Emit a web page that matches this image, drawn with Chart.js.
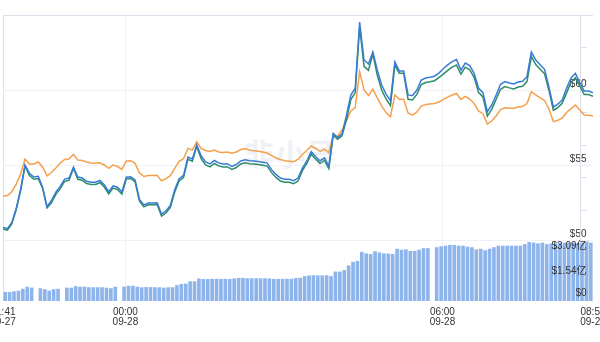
<!DOCTYPE html>
<html>
<head>
<meta charset="utf-8">
<script src="https://cdn.jsdelivr.net/npm/chart.js@4.4.0/dist/chart.umd.min.js"></script>
<style>
  html, body { margin: 0; padding: 0; background: #fff; }
  #wrap { position: relative; width: 600px; height: 342px; overflow: hidden; }
  #mark { position: absolute; left: 244px; top: 130px; font: 700 30px "Noto Sans CJK SC", sans-serif;
          color: #eef1f6; letter-spacing: 1px; }
  #price { position: absolute; left: 0; top: 0; }
  #volume { position: absolute; left: 0; top: 240px; }
</style>
</head>
<body>
<div id="wrap">
  <div id="mark">非小号</div>
  <canvas id="price" width="600" height="245"></canvas>
  <canvas id="volume" width="600" height="102"></canvas>
</div>
<script>
// 5-minute samples, minutes counted from 21:41 (09-27)
const STEP = 5;

// x-axis ticks (minutes from start) with their time / date labels
const tickMinutes = [0, 139, 499, 670];
const tickTimes   = ['21:41', '00:00', '06:00', '08:51'];
const tickDates   = ['09-27', '09-28', '09-28', '09-28'];

// price axis ($)
const priceMin = 50, priceMax = 65, priceStep = 5;

// volume axis (亿)
const volTicks = [0, 1.545, 3.09];
const volTickLabels = ['$0', '$1.54亿', '$3.09亿'];
const volMax = 3.185;

// blue series ($)
const priceBlue = [
  50.83, 50.75, 51.17, 52.11, 53.37, 55.00, 54.44, 54.20, 54.25, 53.52,
  52.22, 52.63, 53.19, 53.57, 54.06, 54.13, 54.85, 54.20, 54.13, 53.91,
  53.85, 53.85, 53.97, 53.68, 53.22, 53.61, 53.52, 53.22, 54.18, 54.22,
  54.00, 52.71, 52.33, 52.47, 52.47, 52.48, 51.73, 51.93, 52.31, 53.35,
  54.09, 54.31, 55.53, 55.40, 56.33, 55.62, 55.20, 55.07, 55.30, 55.14,
  55.07, 55.07, 54.91, 55.03, 55.27, 55.35, 55.29, 55.26, 55.23, 55.19,
  55.13, 54.69, 54.37, 54.13, 54.05, 54.05, 53.95, 54.13, 54.79, 55.27,
  55.89, 55.57, 55.27, 55.47, 54.93, 57.11, 56.83, 57.07, 58.31, 59.66,
  60.13, 64.53, 62.00, 61.73, 62.53, 61.33, 60.33, 59.73, 59.29, 61.87,
  61.27, 61.27, 59.67, 59.62, 60.00, 60.67, 60.80, 60.85, 60.92, 61.13,
  61.42, 61.67, 61.89, 62.03, 61.33, 61.80, 61.63, 61.12, 60.13, 59.82,
  58.55, 59.00, 59.67, 60.38, 60.56, 60.47, 60.40, 60.53, 60.58, 60.89,
  62.53, 62.00, 61.69, 61.38, 60.19, 58.87, 59.05, 59.33, 60.11, 60.80,
  61.11, 60.49, 59.93, 59.93, 59.81
];

// green series ($)
const priceGreen = [
  50.73, 50.65, 51.07, 52.01, 53.30, 54.93, 54.29, 54.05, 54.10, 53.44,
  52.14, 52.48, 53.04, 53.42, 53.91, 53.98, 54.78, 54.05, 53.98, 53.76,
  53.70, 53.70, 53.82, 53.53, 53.07, 53.46, 53.37, 53.07, 54.06, 54.10,
  53.88, 52.59, 52.21, 52.35, 52.35, 52.36, 51.60, 51.80, 52.18, 53.20,
  53.94, 54.16, 55.38, 55.25, 56.23, 55.42, 55.00, 54.87, 55.10, 54.94,
  54.87, 54.87, 54.71, 54.83, 55.07, 55.15, 55.09, 55.06, 55.03, 54.99,
  54.93, 54.49, 54.17, 53.93, 53.85, 53.85, 53.75, 53.93, 54.62, 55.10,
  55.72, 55.40, 55.10, 55.30, 54.76, 56.99, 56.71, 56.95, 58.01, 59.36,
  59.83, 64.20, 61.58, 61.31, 62.41, 61.00, 60.00, 59.40, 58.96, 61.65,
  61.12, 61.12, 59.38, 59.33, 59.71, 60.37, 60.50, 60.55, 60.62, 60.83,
  61.06, 61.31, 61.53, 61.67, 61.05, 61.52, 61.35, 60.84, 59.85, 59.54,
  58.26, 58.71, 59.38, 60.05, 60.23, 60.14, 60.07, 60.20, 60.25, 60.56,
  62.23, 61.70, 61.39, 61.08, 59.97, 58.65, 58.83, 59.11, 59.81, 60.50,
  60.81, 60.26, 59.70, 59.70, 59.58
];

// orange series ($)
const priceOrange = [
  52.93, 52.97, 53.22, 53.73, 54.40, 55.38, 55.07, 55.07, 55.20, 54.87,
  54.27, 54.50, 54.80, 55.13, 55.37, 55.40, 55.71, 55.33, 55.30, 55.20,
  55.13, 55.11, 55.15, 55.00, 54.78, 55.00, 54.90, 54.71, 55.27, 55.29,
  55.11, 54.47, 54.23, 54.30, 54.30, 54.31, 53.95, 54.07, 54.29, 54.77,
  55.24, 55.42, 56.11, 56.00, 56.55, 56.10, 55.97, 55.90, 56.00, 55.87,
  55.83, 55.87, 55.78, 55.87, 56.03, 56.10, 56.00, 55.95, 55.91, 55.87,
  55.80, 55.63, 55.47, 55.37, 55.28, 55.25, 55.22, 55.37, 55.70, 55.97,
  56.27, 56.10, 55.90, 56.05, 55.82, 56.90, 56.93, 57.33, 57.93, 58.60,
  58.83, 61.22, 60.00, 59.63, 60.05, 59.47, 58.93, 58.50, 58.22, 59.67,
  59.38, 59.38, 58.47, 58.33, 58.53, 58.93, 59.03, 59.07, 59.10, 59.20,
  59.37, 59.53, 59.67, 59.77, 59.37, 59.57, 59.40, 59.10, 58.60, 58.42,
  57.73, 57.93, 58.27, 58.70, 58.82, 58.79, 58.78, 58.87, 58.90, 59.10,
  59.89, 59.67, 59.47, 59.30, 58.73, 57.89, 57.98, 58.13, 58.50, 58.76,
  59.00, 58.67, 58.33, 58.31, 58.28
];

// volume per 5-minute interval (亿), null where no data
const volume = [
  0.46, 0.45, 0.49, 0.52, 0.62, 0.73, 0.68, null, 0.65, 0.60,
  0.52, 0.60, 0.62, null, 0.68, 0.68, 0.76, 0.73, 0.73, 0.70,
  0.70, 0.70, 0.70, 0.68, 0.65, 0.73, null, 0.73, 0.78, 0.78,
  0.73, 0.70, 0.71, 0.71, 0.70, 0.70, 0.68, 0.70, 0.70, 0.81,
  0.87, 0.89, 1.01, 1.01, 1.16, 1.13, 1.13, 1.14, 1.14, 1.14,
  1.14, 1.13, 1.16, 1.19, 1.19, 1.17, 1.17, 1.17, 1.17, 1.17,
  1.16, 1.14, 1.14, 1.14, 1.14, 1.14, 1.18, 1.20, 1.28, 1.32,
  1.33, 1.32, 1.32, 1.33, 1.28, 1.52, 1.52, 1.60, 1.84, 2.03,
  2.08, 2.55, 2.47, 2.44, 2.58, 2.52, 2.47, 2.46, 2.44, 2.71,
  2.66, 2.68, 2.60, 2.60, 2.66, 2.74, 2.74, null, 2.79, 2.84,
  2.87, 2.91, 2.91, 2.87, 2.87, 2.82, 2.79, 2.68, 2.71, 2.63,
  2.71, 2.79, 2.87, 2.87, 2.87, 2.87, 2.87, 2.87, 2.95, 3.06,
  3.03, 2.99, 3.03, 2.95, 2.99, 2.99, 3.03, 3.03, 3.03, 3.03,
  2.99, 3.03, 3.09, 3.03
];

const FAMILY = '"Liberation Sans", Arial, "Noto Sans CJK SC", sans-serif';
const baseFont = { family: FAMILY, size: 10, lineHeight: 1 };
const TEXT = '#333333';
const EDGE = '#dedfea';
const GRID = '#f0f1f5';

const asPoints = (arr, offset) => arr.map((v, i) => ({ x: i * STEP + offset, y: v }));

function timeAxis(showLabels) {
  return {
    type: 'linear',
    offset: false,
    min: tickMinutes[0],
    max: tickMinutes[tickMinutes.length - 1],
    afterBuildTicks: s => { s.ticks = tickMinutes.map(v => ({ value: v })); },
    afterFit: s => { s.paddingLeft = 0; s.paddingRight = 0; },
    border: { display: false },
    grid: {
      offset: false,
      drawTicks: false,
      color: c => {
        const v = c.tick ? c.tick.value : null;
        if (v === tickMinutes[0]) return EDGE;
        if (v === tickMinutes[tickMinutes.length - 1]) return 'rgba(0,0,0,0)';
        return GRID;
      }
    },
    ticks: {
      display: showLabels,
      autoSkip: false,
      maxRotation: 0,
      padding: 6,
      color: TEXT,
      font: baseFont,
      callback: (v, i) => [tickTimes[i], tickDates[i]]
    }
  };
}

// thin frame axis on the right edge with short tick marks
function sideAxis(marks, lo, hi) {
  return {
    type: 'linear',
    position: 'right',
    min: lo, max: hi,
    afterBuildTicks: s => { s.ticks = marks.map(v => ({ value: v })); },
    ticks: { display: false },
    grid: { drawOnChartArea: false, drawTicks: true, tickLength: 7, color: EDGE },
    border: { display: true, color: EDGE }
  };
}

const noPad = s => { s.paddingTop = 0; s.paddingBottom = 0; };

new Chart(document.getElementById('price'), {
  type: 'line',
  data: {
    datasets: [
      { data: asPoints(priceBlue, 0),   borderColor: '#3a7bd5', borderWidth: 1.5, pointRadius: 0, tension: 0, yAxisID: 'y' },
      { data: asPoints(priceGreen, 0),  borderColor: '#2d8c6a', borderWidth: 1.5, pointRadius: 0, tension: 0, yAxisID: 'y' },
      { data: asPoints(priceOrange, 0), borderColor: '#f4a04c', borderWidth: 1.5, pointRadius: 0, tension: 0, yAxisID: 'y' }
    ]
  },
  options: {
    responsive: false,
    animation: false,
    events: [],
    layout: { padding: { top: 15, left: 3, right: 0, bottom: 5 } },
    plugins: { legend: { display: false }, tooltip: { enabled: false } },
    scales: {
      x: timeAxis(false),
      y: {
        type: 'linear',
        position: 'right',
        min: priceMin, max: priceMax,
        afterFit: noPad,
        border: { display: false },
        grid: {
          drawTicks: false,
          color: c => (c.tick && c.tick.value === priceMax) ? EDGE : GRID
        },
        ticks: {
          stepSize: priceStep,
          autoSkip: false,
          mirror: true,
          padding: -6.5,
          labelOffset: -6,
          color: TEXT,
          font: baseFont,
          callback: v => v === priceMax ? '' : '$' + v
        }
      },
      yR: sideAxis([0, 1, 2, 3, 4, 5, 6], -0.923, 6)
    }
  }
});

new Chart(document.getElementById('volume'), {
  type: 'bar',
  data: {
    datasets: [
      { data: asPoints(volume, STEP / 2), backgroundColor: '#8db5ec', barThickness: 3, yAxisID: 'v' }
    ]
  },
  options: {
    responsive: false,
    animation: false,
    events: [],
    layout: { padding: { top: 0, left: 3, right: 0, bottom: 9 } },
    plugins: { legend: { display: false }, tooltip: { enabled: false } },
    scales: {
      x: timeAxis(true),
      v: {
        type: 'linear',
        position: 'right',
        min: 0, max: volMax,
        afterBuildTicks: s => { s.ticks = volTicks.map(v => ({ value: v })); },
        afterFit: noPad,
        border: { display: false },
        grid: { display: false },
        ticks: {
          z: 1,
          autoSkip: false,
          mirror: true,
          padding: -6.5,
          color: TEXT,
          // end labels are kept inside the panel: bottom one lifted, top one lowered
          font: c => ({ family: FAMILY, size: 10,
                        lineHeight: c.index === 0 ? '16px' : (c.index === volTicks.length - 1 ? '8px' : '10px') }),
          callback: (v, i) => i === 0 ? [volTickLabels[i], '']
                           : (i === volTicks.length - 1 ? ['', volTickLabels[i]] : volTickLabels[i])
        }
      },
      vR: sideAxis([], 0, 1)
    }
  }
});
</script>
</body>
</html>
